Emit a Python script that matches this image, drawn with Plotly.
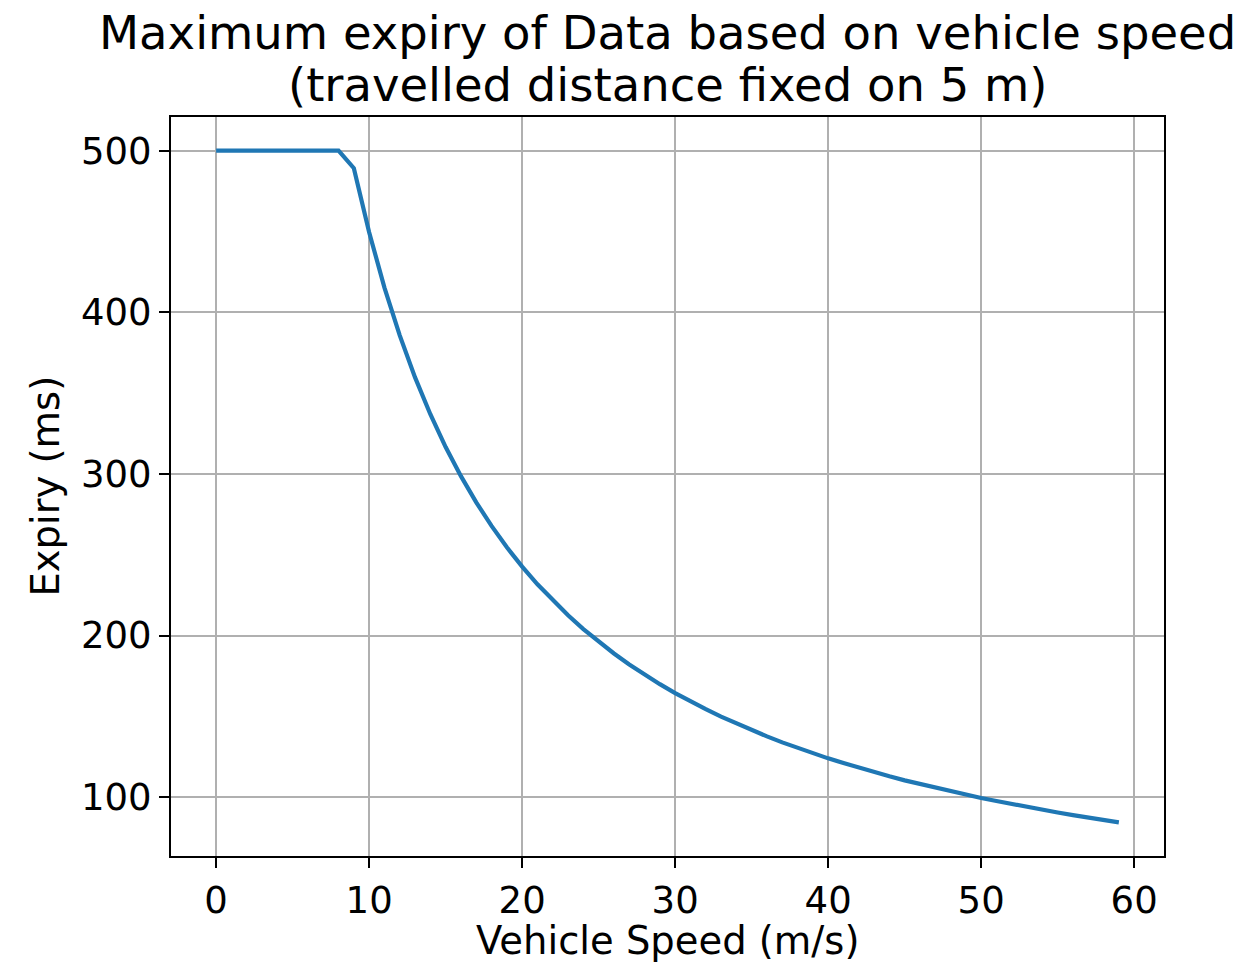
import plotly.graph_objects as go

# Data
speed = list(range(0, 60))
expiry = [500, 500, 500, 500, 500, 500, 500, 500, 500,
          489.1, 449.5, 415.3, 385.7, 359.7, 336.9, 316.6, 298.6, 282.4, 267.8, 254.6,
          242.6, 231.7, 221.7, 212.5, 204.0, 196.2, 188.9, 182.1, 175.8, 169.9,
          164.4, 159.2, 154.4, 149.8, 145.5, 141.4, 137.6, 133.9, 130.5, 127.2,
          124.0, 121.1, 118.2, 115.5, 112.9, 110.4, 108.1, 105.8, 103.6, 101.5,
          99.5, 97.6, 95.7, 93.9, 92.2, 90.5, 88.9, 87.4, 85.9, 84.4]
x_ticks = [0, 10, 20, 30, 40, 50, 60]
y_ticks = [100, 200, 300, 400, 500]

title_line1 = "Maximum expiry of Data based on vehicle speed"
title_line2 = "(travelled distance fixed on 5 m)"
x_label = "Vehicle Speed (m/s)"
y_label = "Expiry (ms)"

FONT = "DejaVu Sans"

fig = go.Figure()
fig.add_trace(go.Scatter(x=speed, y=expiry, mode="lines",
                         line=dict(color="#1f77b4", width=4.2),
                         showlegend=False))

axis_common = dict(
    showgrid=True, gridcolor="#b0b0b0", gridwidth=2.2,
    showline=True, linecolor="black", linewidth=2.2, mirror=True,
    ticks="outside", ticklen=10, tickwidth=2.2, tickcolor="black",
    zeroline=False,
    tickfont=dict(family=FONT, size=37, color="black"),
)

fig.update_xaxes(range=[-2.95, 61.95], tickvals=x_ticks, **axis_common)
fig.update_yaxes(range=[63.6, 520.8], tickvals=y_ticks, **axis_common)

fig.update_layout(
    width=1245, height=963,
    margin=dict(l=171, r=81, t=117, b=107, autoexpand=False),
    paper_bgcolor="white", plot_bgcolor="white",
    font=dict(family=FONT, color="black"),
    annotations=[
        dict(text=title_line1, xref="paper", yref="paper", x=0.5, y=1,
             xanchor="center", yanchor="middle", yshift=84, showarrow=False,
             font=dict(family=FONT, size=46.5, color="black")),
        dict(text=title_line2, xref="paper", yref="paper", x=0.5, y=1,
             xanchor="center", yanchor="middle", yshift=32, showarrow=False,
             font=dict(family=FONT, size=46.5, color="black")),
        dict(text=x_label, xref="paper", yref="paper", x=0.5, y=0,
             xanchor="center", yanchor="middle", yshift=-84, showarrow=False,
             font=dict(family=FONT, size=38.5, color="black")),
        dict(text=y_label, xref="paper", yref="paper", x=0, y=0.5,
             xanchor="center", yanchor="middle", xshift=-126, textangle=-90,
             showarrow=False,
             font=dict(family=FONT, size=38.5, color="black")),
    ],
)

fig.write_html("out.html",
               config={"displayModeBar": False},
               post_script="document.body.style.margin='0px';document.body.style.overflow='hidden';")
